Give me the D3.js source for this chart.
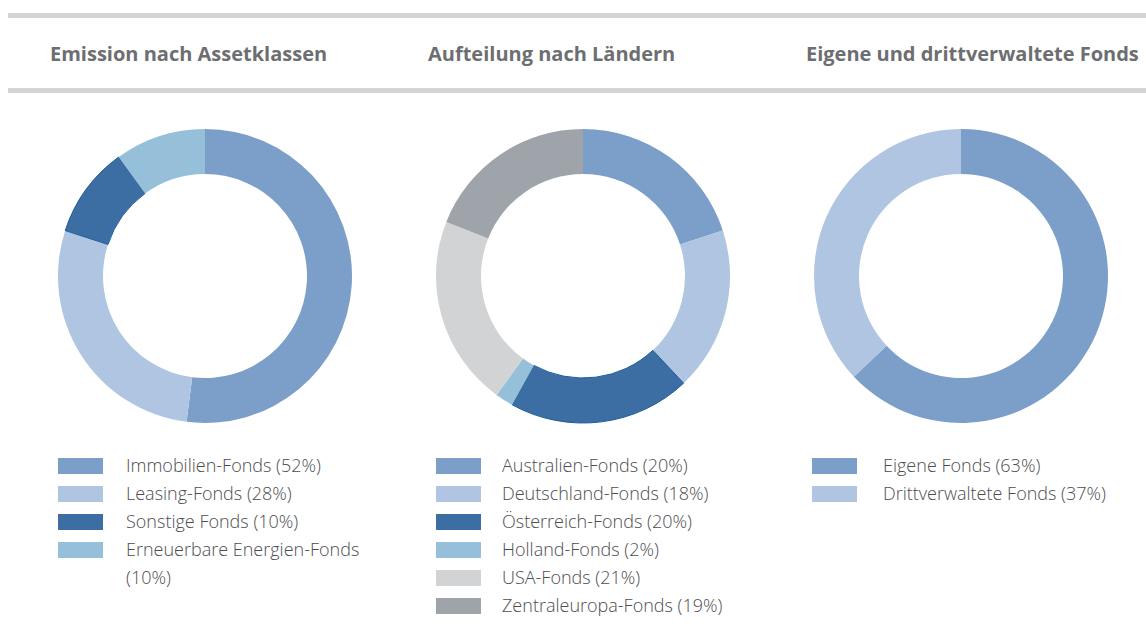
<!DOCTYPE html>
<html>
<head>
<meta charset="utf-8">
<script src="https://cdn.jsdelivr.net/npm/d3@7"></script>
<style>
  body { margin: 0; background: #fff; }
  svg { display: block; }
</style>
</head>
<body>
<div id="container"></div>
<script>
/* CONSTANTS AND GLOBALS */
const width = 1146,
  height = 637;

/* DATA */
const titles = ["Emission nach Assetklassen", "Aufteilung nach Ländern", "Eigene und drittverwaltete Fonds"];

const assetLabels = ["Immobilien-Fonds", "Leasing-Fonds", "Sonstige Fonds", "Erneuerbare Energien-Fonds"];
const assetValues = [52, 28, 10, 10];
const assetColors = ["#7b9fc9", "#afc5e1", "#3c6ea3", "#96bfda"];

const countryLabels = ["Australien-Fonds", "Deutschland-Fonds", "Österreich-Fonds", "Holland-Fonds", "USA-Fonds", "Zentraleuropa-Fonds"];
const countryValues = [20, 18, 20, 2, 21, 19];
const countryColors = ["#7b9fc9", "#afc5e1", "#3c6ea3", "#96bfda", "#d2d3d5", "#9ea4a9"];

const ownLabels = ["Eigene Fonds", "Drittverwaltete Fonds"];
const ownValues = [63, 37];
const ownColors = ["#7b9fc9", "#afc5e1"];

const panels = [
  { title: titles[0], labels: assetLabels, values: assetValues, colors: assetColors, cx: 205, legendX: 58, textX: 126, wrap: { 3: ["Erneuerbare Energien-Fonds", "(10%)"] } },
  { title: titles[1], labels: countryLabels, values: countryValues, colors: countryColors, cx: 583, legendX: 436, textX: 502, wrap: {} },
  { title: titles[2], labels: ownLabels, values: ownValues, colors: ownColors, cx: 961, legendX: 812, textX: 883, wrap: {} }
];

const titleX = [50, 428, 806];

// CREATE SVG ELEMENT
const svg = d3.select("#container")
  .append("svg")
  .attr("width", width)
  .attr("height", height)

// header rules
svg.append("rect").attr("x", 8).attr("y", 13).attr("width", width - 8).attr("height", 5).attr("fill", "#d4d4d4")
svg.append("rect").attr("x", 8).attr("y", 88).attr("width", width - 8).attr("height", 5).attr("fill", "#d4d4d4")

const cy = 276,
  outerR = 147,
  innerR = 102;

const pie = d3.pie().sort(null).value(d => d)
const arcGen = d3.arc().innerRadius(innerR).outerRadius(outerR)

panels.forEach((p, i) => {
  svg.append("text")
    .attr("x", titleX[i])
    .attr("y", 61)
    .attr("fill", "#6d6e71")
    .style("font-family", "'Open Sans', sans-serif")
    .style("font-weight", 700)
    .style("font-size", "20px")
    .text(p.title)

  const g = svg.append("g").attr("transform", `translate(${p.cx},${cy})`)

  g.selectAll("path")
    .data(pie(p.values))
    .join("path")
    .attr("d", arcGen)
    .attr("fill", (d, j) => p.colors[j])
    .attr("stroke", (d, j) => p.colors[j] == "#3c6ea3" ? "#1f5e9b" : "none")
    .attr("stroke-width", 1)

  // LEGEND
  const rowY = d3.scaleLinear().domain([0, 1]).range([466, 494])
  p.labels.forEach((lab, j) => {
    svg.append("rect")
      .attr("x", p.legendX)
      .attr("y", rowY(j) - 8)
      .attr("width", 45)
      .attr("height", 16)
      .attr("fill", p.colors[j])
    const lines = p.wrap[j] || [`${lab} (${p.values[j]}%)`]
    lines.forEach((ln, k) => {
      svg.append("text")
        .attr("x", p.textX)
        .attr("y", rowY(j + k) + 6)
        .attr("fill", "#4d4d4f")
        .style("font-family", "'Open Sans', sans-serif")
        .style("font-weight", 300)
        .style("font-size", "18px")
        .text(ln)
    })
  })
})
</script>
</body>
</html>
